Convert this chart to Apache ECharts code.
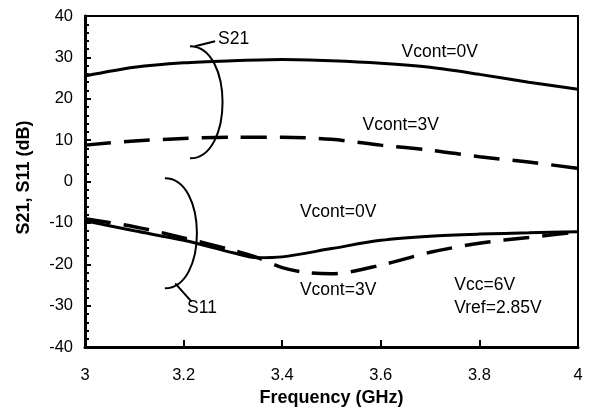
<!DOCTYPE html>
<html>
<head>
<meta charset="utf-8">
<script src="https://cdn.jsdelivr.net/npm/echarts@6/dist/echarts.min.js"></script>
<style>
html,body{margin:0;padding:0;background:#fff;}
#c{width:590px;height:412px;}
</style>
</head>
<body>
<div id="c"></div>
<script>
// ---- data ----
var xTickLabels = ['3', '3.2', '3.4', '3.6', '3.8', '4'];
var yTickLabels = ['-40', '-30', '-20', '-10', '0', '10', '20', '30', '40'];

var s21Freq = [3.0, 3.1, 3.2, 3.3, 3.4, 3.5, 3.6, 3.7, 3.8, 3.9, 4.0];
var s21Vcont0 = [25.5, 27.6, 28.7, 29.2, 29.5, 29.2, 28.6, 27.6, 25.9, 24.0, 22.3];
var s21Vcont3 = [8.8, 9.8, 10.4, 10.7, 10.7, 10.2, 8.8, 7.6, 6.0, 4.7, 3.2];

var s11Freq0 = [3.0, 3.1, 3.2, 3.3, 3.35, 3.4, 3.5, 3.6, 3.7, 3.8, 3.9, 4.0];
var s11Vcont0 = [-9.5, -11.9, -14.2, -17.2, -18.4, -18.2, -16.2, -14.2, -13.2, -12.7, -12.4, -12.1];
var s11Freq3 = [3.0, 3.1, 3.2, 3.3, 3.35, 3.4, 3.45, 3.5, 3.6, 3.7, 3.8, 3.9, 4.0];
var s11Vcont3 = [-9.0, -10.9, -13.6, -16.6, -18.4, -20.8, -22.0, -22.3, -20.2, -17.1, -14.9, -13.5, -12.2];

// annotation texts and anchors (data units)
var annTexts = ['S21', 'Vcont=0V', 'Vcont=3V', 'Vcont=0V', 'Vcont=3V', 'S11', 'Vcc=6V', 'Vref=2.85V'];
var annAnchors = [[3.270, 34.3], [3.642, 31.2], [3.563, 13.6], [3.436, -7.5], [3.436, -26.2], [3.207, -30.7], [3.749, -25.0], [3.749, -30.6]];
// brackets: [x at ends, y top, y bottom, x at bulge]
var brackets = [[3.213, 32.7, 5.6, 3.279], [3.162, 0.8, -25.8, 3.227]];
var leaders = [[[3.223, 32.7], [3.264, 33.9]], [[3.183, -24.6], [3.216, -29.0]]];

function pairs(xs, ys) { return xs.map(function (x, i) { return [x, ys[i]]; }); }

var chart = echarts.init(document.getElementById('c'), null, { renderer: 'canvas' });
var font = 'Liberation Sans, Arial, sans-serif';

var option = {
  animation: false,
  backgroundColor: '#fff',
  textStyle: { fontFamily: font, color: '#000' },
  grid: { left: 85, right: 12, top: 16, bottom: 61 },
  xAxis: [{
    type: 'value', min: 3, max: 4, interval: 0.2,
    name: 'Frequency (GHz)', nameLocation: 'middle', nameGap: 39,
    nameTextStyle: { fontFamily: font, fontSize: 18, fontWeight: 'bold', color: '#000' },
    axisLine: { show: true, onZero: false, lineStyle: { color: '#000', width: 3 } },
    axisTick: { show: true, inside: true, length: 7, lineStyle: { color: '#000', width: 2 } },
    axisLabel: {
      fontFamily: font, fontSize: 16.5, color: '#000', margin: 20,
      formatter: function (v) { return xTickLabels[Math.round((v - 3) / 0.2)]; }
    },
    splitLine: { show: false }
  }, {
    type: 'value', min: 3, max: 4, position: 'top',
    axisLine: { show: true, onZero: false, lineStyle: { color: '#000', width: 2 } },
    axisTick: { show: false }, axisLabel: { show: false }, splitLine: { show: false }
  }],
  yAxis: [{
    type: 'value', min: -40, max: 40, interval: 10,
    name: 'S21, S11 (dB)', nameLocation: 'middle', nameGap: 52,
    nameTextStyle: { fontFamily: font, fontSize: 18, fontWeight: 'bold', color: '#000', padding: [0, 0, 0, 8] },
    axisLine: { show: true, onZero: false, lineStyle: { color: '#000', width: 3 } },
    axisTick: { show: true, inside: true, length: 6, lineStyle: { color: '#000', width: 2 } },
    minorTick: { show: true, splitNumber: 5, length: 4, lineStyle: { color: '#000', width: 2 } },
    axisLabel: {
      fontFamily: font, fontSize: 16.5, color: '#000', margin: 12,
      formatter: function (v) { return yTickLabels[Math.round((v + 40) / 10)]; }
    },
    splitLine: { show: false }
  }, {
    type: 'value', min: -40, max: 40, position: 'right',
    axisLine: { show: true, onZero: false, lineStyle: { color: '#000', width: 2 } },
    axisTick: { show: false }, axisLabel: { show: false }, splitLine: { show: false }
  }],
  series: [
    { name: 'S21 Vcont=0V', type: 'line', data: pairs(s21Freq, s21Vcont0), smooth: 0.3, showSymbol: false,
      lineStyle: { color: '#000', width: 3, type: 'solid' } },
    { name: 'S21 Vcont=3V', type: 'line', data: pairs(s21Freq, s21Vcont3), smooth: 0.3, showSymbol: false,
      lineStyle: { color: '#000', width: 3.5, type: [26, 13] } },
    { name: 'S11 Vcont=0V', type: 'line', data: pairs(s11Freq0, s11Vcont0), smooth: 0.3, showSymbol: false,
      lineStyle: { color: '#000', width: 3, type: 'solid' } },
    { name: 'S11 Vcont=3V', type: 'line', data: pairs(s11Freq3, s11Vcont3), smooth: 0.3, showSymbol: false,
      lineStyle: { color: '#000', width: 3.5, type: [26, 13] } }
  ]
};
chart.setOption(option);

function px(p) { return chart.convertToPixel({ gridIndex: 0 }, p); }
var g = [];
brackets.forEach(function (b) {
  var t = px([b[0], b[1]]), bt = px([b[0], b[2]]), m = px([b[3], b[1]]);
  var a = (m[0] - t[0]) * 4 / 3;
  g.push({ type: 'bezierCurve', silent: true,
    shape: { x1: t[0], y1: t[1], cpx1: t[0] + a, cpy1: t[1], cpx2: t[0] + a, cpy2: bt[1], x2: bt[0], y2: bt[1] },
    style: { stroke: '#000', lineWidth: 2, fill: null } });
});
leaders.forEach(function (l) {
  var p1 = px(l[0]), p2 = px(l[1]);
  g.push({ type: 'line', silent: true, shape: { x1: p1[0], y1: p1[1], x2: p2[0], y2: p2[1] },
    style: { stroke: '#000', lineWidth: 2 } });
});
annTexts.forEach(function (t, i) {
  var p = px(annAnchors[i]);
  g.push({ type: 'text', silent: true, x: p[0], y: p[1],
    style: { text: t, font: '17.5px ' + font, fill: '#000', align: 'left', verticalAlign: 'middle' } });
});
chart.setOption({ graphic: g });
</script>
</body>
</html>
